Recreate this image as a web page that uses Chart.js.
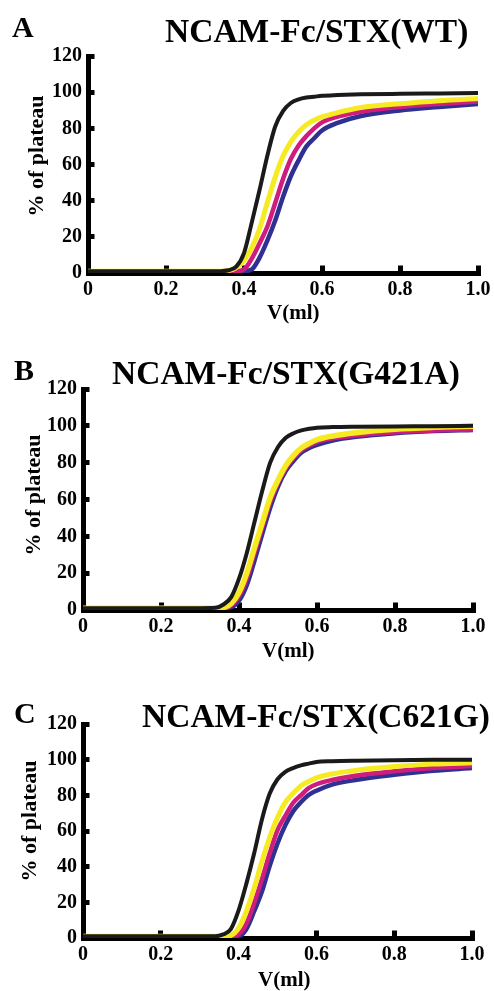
<!DOCTYPE html>
<html>
<head>
<meta charset="utf-8">
<script src="https://cdn.jsdelivr.net/npm/chart.js@4.4.1/dist/chart.umd.min.js"></script>
<style>
  body { margin: 0; background: #fff; width: 494px; height: 991px; position: relative; overflow: hidden;
         font-family: "Liberation Serif", "Times New Roman", serif; font-weight: bold; color: #000; }
  canvas { position: absolute; left: 0; }
  .t { position: absolute; white-space: nowrap; line-height: 1; }
  .ylab { font-size: 22px; transform: translate(-50%, -50%) rotate(-90deg); }
  .xlab { font-size: 21px; }
  .letter { font-size: 30px; }
  .title { font-size: 33.5px; }
</style>
</head>
<body>
<canvas id="wt" width="494" height="330" style="top:0"></canvas>
<canvas id="g421a" width="494" height="330" style="top:330px"></canvas>
<canvas id="c621g" width="494" height="331" style="top:660px"></canvas>

<div class="t letter" style="left:12px;top:12px">A</div>
<div class="t title" style="left:165px;top:14px">NCAM-Fc/STX(WT)</div>
<div class="t ylab" style="left:36px;top:156px">% of plateau</div>
<div class="t xlab" style="left:267px;top:302px">V(ml)</div>

<div class="t letter" style="left:14px;top:355px">B</div>
<div class="t title" style="left:112px;top:356px">NCAM-Fc/STX(G421A)</div>
<div class="t ylab" style="left:33px;top:495px">% of plateau</div>
<div class="t xlab" style="left:262px;top:640px">V(ml)</div>

<div class="t letter" style="left:14px;top:698px">C</div>
<div class="t title" style="left:142px;top:699px">NCAM-Fc/STX(C621G)</div>
<div class="t ylab" style="left:29px;top:821px">% of plateau</div>
<div class="t xlab" style="left:258px;top:969px">V(ml)</div>

<script>
// elution volume (ml) where the curves were read
const volume = [0, 0.1, 0.2, 0.3, 0.34, 0.36, 0.38, 0.40, 0.42, 0.44, 0.46, 0.48, 0.50,
                0.52, 0.54, 0.56, 0.58, 0.60, 0.64, 0.70, 0.80, 0.90, 1.0];

// % of plateau, panel A (WT)
const wtBlack   = [1, 1, 1, 1, 1, 1.5, 3.5, 11, 28, 46, 65, 81, 89.5, 94, 96, 97, 97.5, 98, 98.4, 98.8, 99.1, 99.3, 99.5];
const wtYellow  = [1, 1, 1, 1, 1, 1.3, 3, 7, 14, 24.5, 39, 53, 64.5, 72.5, 78, 82, 84.5, 86.3, 88.7, 91.5, 93.6, 95.3, 96.5];
const wtMagenta = [1, 1, 1, 1, 1, 1, 1, 2, 8, 16.5, 25.7, 38.7, 52, 63, 70.5, 75.7, 80, 83.3, 86.5, 89.2, 91.8, 93.5, 94.8];
const wtBlue    = [1, 1, 1, 1, 1, 1, 1, 1, 2, 8.5, 18, 29, 42, 53.5, 62.3, 70, 74.5, 78.8, 83, 86.8, 89.9, 91.8, 93.5];

// panel B (G421A)
const g421aBlack   = [1, 1, 1, 1, 1.2, 3, 7, 17, 31, 48, 65, 80, 88.5, 93.5, 96, 97.5, 98.4, 99, 99.3, 99.5, 99.7, 99.8, 100];
const g421aYellow  = [1, 1, 1, 1, 1, 1.3, 3.5, 9.5, 20, 34, 47.5, 61, 70.5, 78.5, 84, 88, 90.5, 92.5, 94.5, 96.3, 98.2, 99.2, 99.8];
const g421aMagenta = [1, 1, 1, 1, 1, 1, 2.5, 7.5, 17, 31, 45, 58.5, 69, 77, 82.5, 86.7, 89.3, 91.2, 93.2, 94.8, 96.5, 97.5, 98];
const g421aBlue    = [1, 1, 1, 1, 1, 1, 1.5, 5, 13.5, 27, 41.5, 55.5, 67, 75.5, 81, 85.5, 88, 89.7, 92, 94, 96, 97.2, 97.8];

// panel C (C621G)
const c621gBlack   = [1, 1, 1, 1, 1, 2, 5, 15.5, 30.5, 47.5, 66.5, 81, 89, 93.2, 95.3, 96.8, 97.8, 98.7, 99.1, 99.4, 99.7, 99.9, 100];
const c621gYellow  = [1, 1, 1, 1, 1, 1, 1.5, 5.5, 15, 28, 43, 56.5, 67.5, 76, 81, 85.3, 87.8, 89.8, 92, 94, 96.2, 97.5, 98.3];
const c621gMagenta = [1, 1, 1, 1, 1, 1, 1, 2, 8, 19.5, 33, 47.5, 60.5, 68.5, 75.7, 80, 84, 86.2, 88.6, 91, 93.5, 95.3, 96.4];
const c621gBlue    = [1, 1, 1, 1, 1, 1, 1, 1, 5, 15, 26, 40.5, 53, 63.2, 71, 76.1, 80.2, 82.6, 86, 88.6, 91.5, 93.8, 95.3];

const xTickLabels = ["0", "0.2", "0.4", "0.6", "0.8", "1.0"];
const yTickLabels = ["0", "20", "40", "60", "80", "100", "120"];

const font = { family: "'Liberation Serif', 'Times New Roman', serif", size: 20, weight: "bold" };

function makePanel(id, curves, box) {
  const datasets = curves.map((c) => ({
    data: volume.map((v, i) => ({ x: v, y: c.values[i] })),
    borderColor: c.color,
    borderWidth: c.width,
    borderJoinStyle: "round",
    pointRadius: 0,
    fill: false,
    cubicInterpolationMode: "monotone",
  }));

  new Chart(document.getElementById(id), {
    type: "line",
    data: { datasets },
    options: {
      responsive: false,
      animation: false,
      events: [],
      layout: {
        padding: { left: 0, top: box.top, right: 494 - box.right, bottom: box.h - box.bottom - 53 },
      },
      plugins: { legend: { display: false }, tooltip: { enabled: false } },
      scales: {
        x: {
          type: "linear", min: 0, max: 1, z: 1,
          border: { display: true, color: "#000", width: 5 },
          grid: { drawOnChartArea: false, drawTicks: true, tickLength: -7.5, tickWidth: 5, tickColor: "#000" },
          ticks: {
            stepSize: 0.2, padding: 12, color: "#000", font, maxRotation: 0, autoSkip: false,
            callback: (v, i) => xTickLabels[i],
          },
          afterFit(s) { s.height = 53; s.paddingLeft = 0; s.paddingRight = 0; },
        },
        y: {
          min: 0, max: 120, z: 1,
          border: { display: true, color: "#000", width: 5 },
          grid: { drawOnChartArea: false, drawTicks: true, tickLength: -6.5, tickWidth: 5, tickColor: "#000" },
          ticks: {
            stepSize: 20, padding: 12.5, color: "#000", font,
            callback: (v, i) => yTickLabels[i],
          },
          afterFit(s) { s.width = box.left; s.paddingTop = 0; s.paddingBottom = 0; },
        },
      },
    },
  });
}

const black = "#1a1a1a", yellow = "#f6eb22", magenta = "#cf1d7e", blue = "#2e3192";

makePanel("wt", [
  { values: wtBlack, color: black, width: 4 },
  { values: wtYellow, color: yellow, width: 5 },
  { values: wtMagenta, color: magenta, width: 4.5 },
  { values: wtBlue, color: blue, width: 4.5 },
], { left: 88, right: 478, top: 56, bottom: 273, h: 330 });

makePanel("g421a", [
  { values: g421aBlack, color: black, width: 4 },
  { values: g421aYellow, color: yellow, width: 5.5 },
  { values: g421aMagenta, color: magenta, width: 4.5 },
  { values: g421aBlue, color: blue, width: 4.5 },
], { left: 83, right: 473, top: 59, bottom: 280, h: 330 });

makePanel("c621g", [
  { values: c621gBlack, color: black, width: 4 },
  { values: c621gYellow, color: yellow, width: 5 },
  { values: c621gMagenta, color: magenta, width: 4.5 },
  { values: c621gBlue, color: blue, width: 4.5 },
], { left: 83, right: 472, top: 64, bottom: 278, h: 331 });
</script>
</body>
</html>
